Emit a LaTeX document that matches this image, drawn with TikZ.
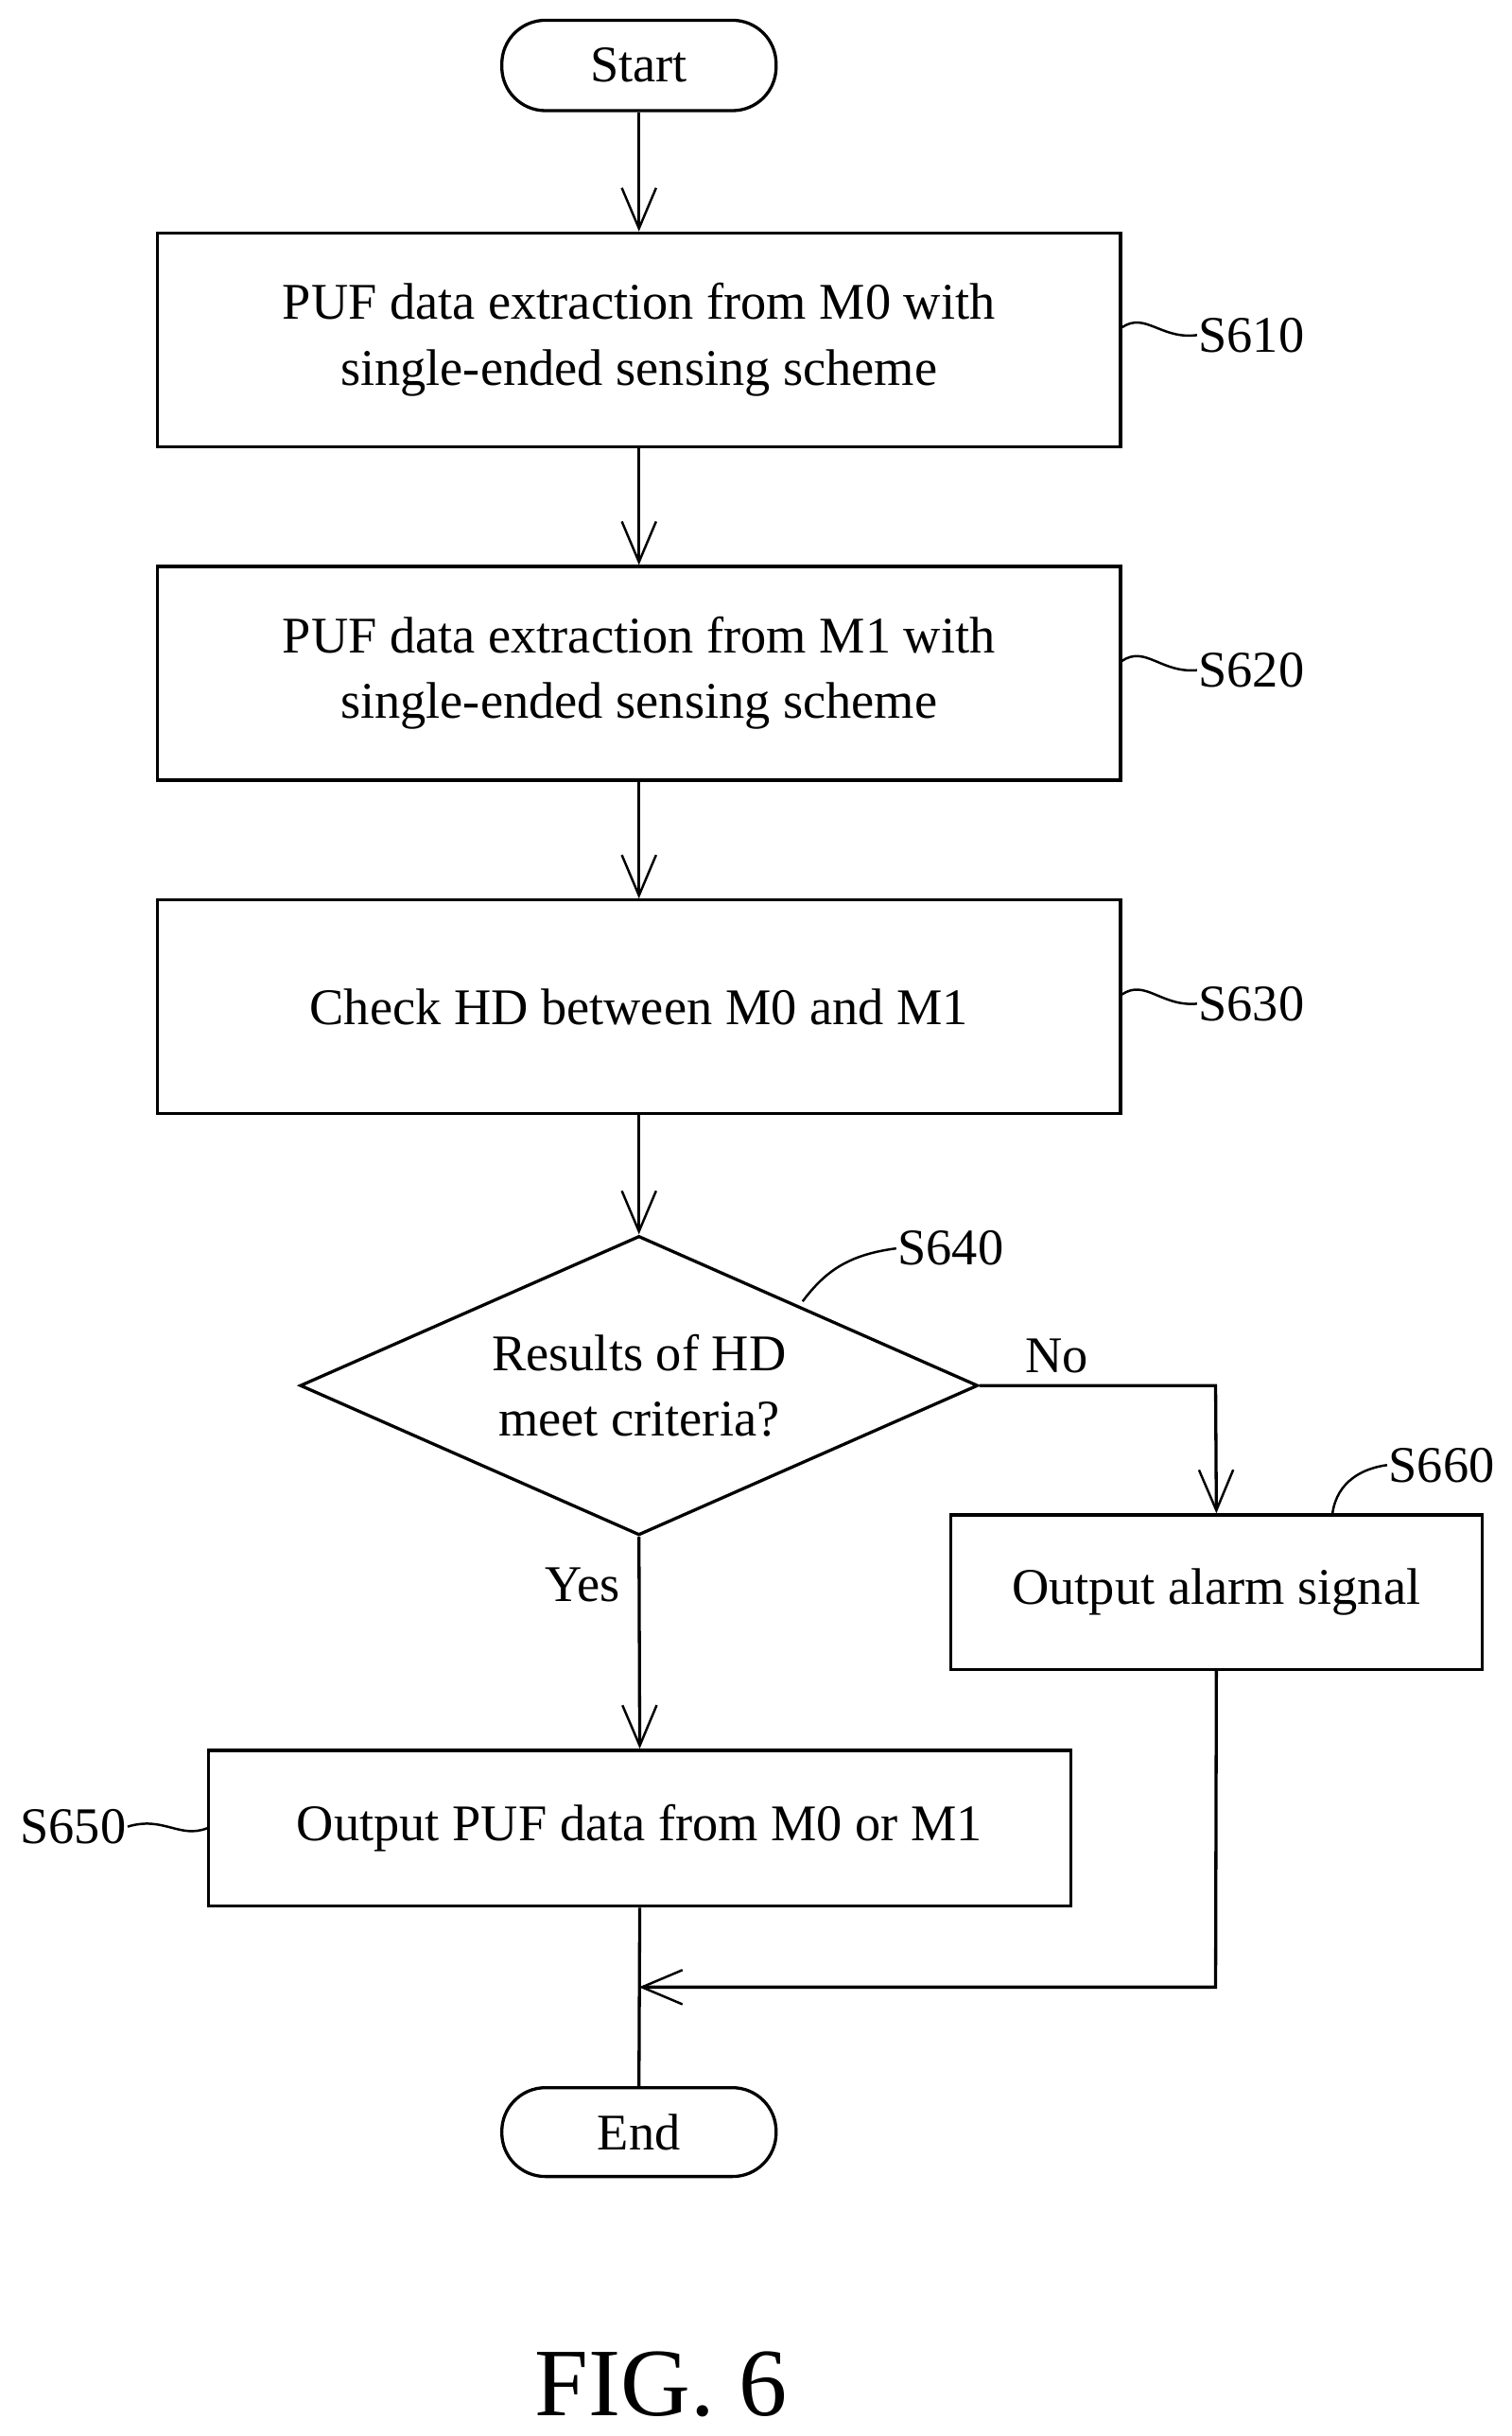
\documentclass[tikz,border=0pt]{standalone}
\usepackage{fontspec}
\setmainfont{Liberation Serif}
\usetikzlibrary{arrows.meta,shapes.geometric}
\begin{document}
\begin{tikzpicture}[x=1pt,y=-1pt,line width=2pt,
  txt/.style={font=\fontsize{33}{42}\selectfont,align=center,inner sep=0},
  box/.style={draw,rectangle,inner sep=0},
  term/.style={draw,rounded rectangle,inner sep=0},
  arr/.style={-{Straight Barb[length=26pt,width=22pt,line width=1.5pt]}},
  sq/.style={line width=1.5pt}]
\useasboundingbox (0,0) rectangle (970,1563);
\tikzset{rounded rectangle/.style={rounded corners=28pt}}
\node[draw,rounded corners=28pt,minimum width=176pt,minimum height=58pt,txt] (start) at (410,42) {Start};
\node[box,minimum width=618pt,minimum height=137pt,txt] (b1) at (410,218) {PUF data extraction from M0 with\\single-ended sensing scheme};
\node[box,minimum width=618pt,minimum height=137pt,txt] (b2) at (410,432) {PUF data extraction from M1 with\\single-ended sensing scheme};
\node[box,minimum width=618pt,minimum height=137pt,txt] (b3) at (410,646) {Check HD between M0 and M1};
\node[draw,diamond,aspect=2.27,minimum width=435pt,minimum height=192pt,inner sep=0,txt] (d) at (410,889) {Results of HD\\meet criteria?};
\node[box,minimum width=341pt,minimum height=99pt,txt] (b6) at (780.5,1021.5) {Output alarm signal};
\node[box,minimum width=553pt,minimum height=100pt,txt] (b5) at (410.5,1173) {Output PUF data from M0 or M1};
\node[draw,rounded corners=28pt,minimum width=176pt,minimum height=57pt,txt] (end) at (410,1368) {End};
\coordinate (j1) at (780,889);
\coordinate (j2) at (780,1275);
\coordinate (j3) at (410,1275);
\draw[arr] (start) -- (b1);
\draw[arr] (b1) -- (b2);
\draw[arr] (b2) -- (b3);
\draw[arr] (b3) -- (d.north);
\draw[arr] (d.south) -- (b5.north);
\draw[arr] (d.east) -- (j1) -- (b6.north);
\draw (b5.south) -- (end.north);
\draw[arr] (b6.south) -- (j2) -- (j3);
\node[txt] (ln) at (678,870) {No};
\node[txt] (ly) at (374,1017) {Yes};
\node[txt] (s610) at (803,215) {S610};
\node[txt] (s620) at (803,430) {S620};
\node[txt] (s630) at (803,644) {S630};
\node[txt] (s640) at (610,801) {S640};
\node[txt] (s660) at (925,940) {S660};
\node[txt] (s650) at (47,1172) {S650};
\draw[sq] (b1.east|-0,210) .. controls (735,200) and (745,218) .. (s610.west);
\draw[sq] (b2.east|-0,424) .. controls (735,414) and (745,432) .. (s620.west);
\draw[sq] (b3.east|-0,638) .. controls (735,628) and (745,646) .. (s630.west);
\draw[sq] (515,835) .. controls (530,815) and (545,805) .. (s640.west);
\draw[sq] (855,971) .. controls (858,950) and (875,942) .. (s660.west);
\draw[sq] (s650.east) .. controls (105,1165) and (115,1180) .. (b5.west);
\node[font=\fontsize{62}{70}\selectfont,inner sep=0] (fig) at (424,1530) {FIG. 6};
\end{tikzpicture}
\end{document}
